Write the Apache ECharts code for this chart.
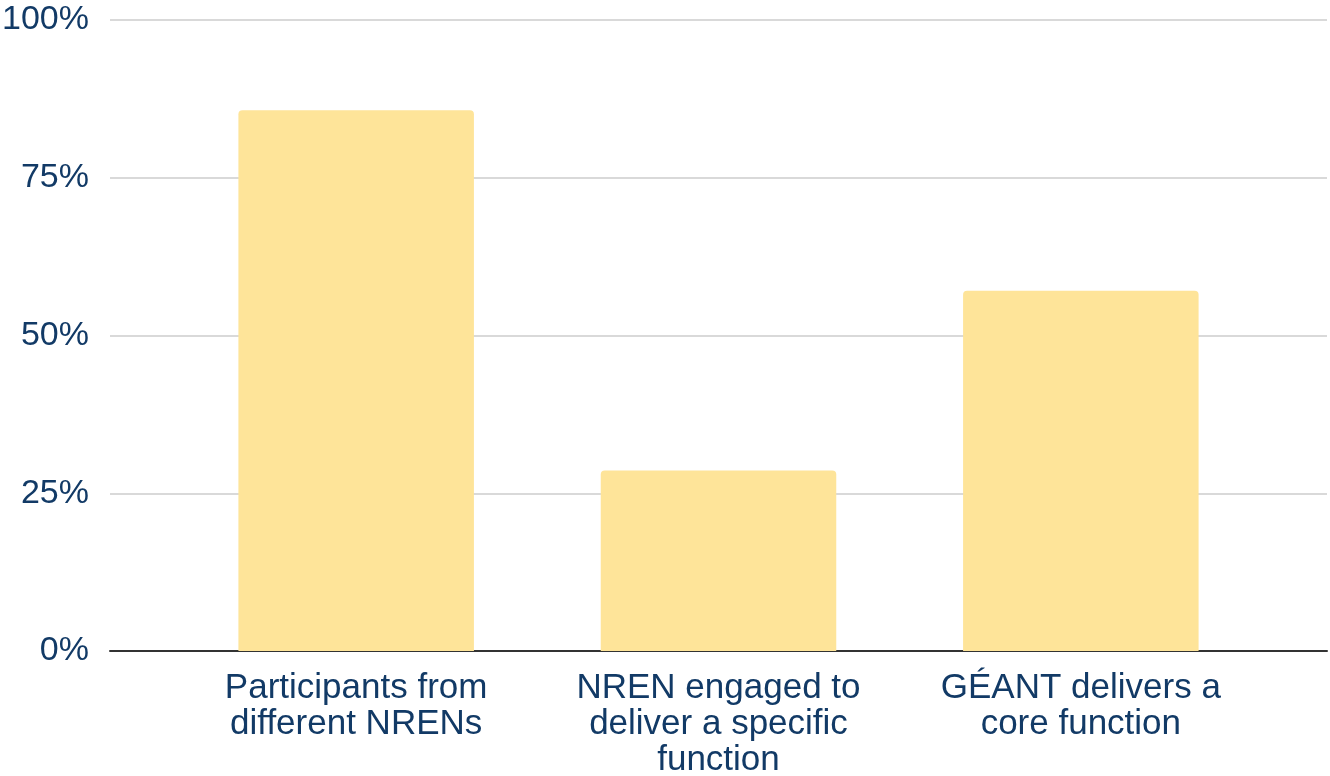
<!DOCTYPE html>
<html>
<head>
<meta charset="utf-8">
<style>
  html, body { margin: 0; padding: 0; background: #ffffff; }
  #chart { width: 1330px; height: 776px; }
</style>
<script src="https://cdn.jsdelivr.net/npm/echarts@6/dist/echarts.min.js"></script>
</head>
<body>
<div id="chart"></div>
<script>
// Share of responses per delivery model (percent)
const categories = [
  'Participants from\ndifferent NRENs',
  'NREN engaged to\ndeliver a specific\nfunction',
  'GÉANT delivers a\ncore function'
];
const shares = [85.7, 28.6, 57.1];
const yTicks = [0, 25, 50, 75, 100];

const textColor = '#123a66';
const fontFamily = '"Liberation Sans", Arial, sans-serif';

const chart = echarts.init(document.getElementById('chart'));
chart.setOption({
  backgroundColor: '#ffffff',
  animation: false,
  grid: [
    // full-width frame: gridlines, y labels and baseline
    { left: 110, right: 3, top: 20, bottom: 125, containLabel: false, outerBoundsMode: 'none' },
    // bar area
    { left: 175, right: 68, top: 20, bottom: 125, containLabel: false, outerBoundsMode: 'none' }
  ],
  xAxis: [
    {
      type: 'category', gridIndex: 0, data: [''],
      axisLine: { show: true, lineStyle: { color: '#333333', width: 2 } },
      axisTick: { show: false }, axisLabel: { show: false }, splitLine: { show: false }
    },
    {
      type: 'category', gridIndex: 1, data: categories,
      axisLine: { show: false }, axisTick: { show: false },
      axisLabel: {
        color: textColor, fontFamily: fontFamily, fontSize: 35,
        lineHeight: 36, margin: 19, interval: 0
      }
    }
  ],
  yAxis: [
    {
      type: 'value', gridIndex: 0, min: yTicks[0], max: yTicks[yTicks.length - 1], interval: 25,
      axisLine: { show: false }, axisTick: { show: false },
      axisLabel: {
        color: textColor, fontFamily: fontFamily, fontSize: 34, margin: 21,
        formatter: v => v + '%'
      },
      splitLine: { lineStyle: { color: '#cccccc', width: 1.5 } }
    },
    {
      type: 'value', gridIndex: 1, min: 0, max: 100, interval: 25,
      axisLine: { show: false }, axisTick: { show: false },
      axisLabel: { show: false }, splitLine: { show: false }
    }
  ],
  series: [
    {
      type: 'bar', xAxisIndex: 1, yAxisIndex: 1, data: shares,
      barWidth: '65%',
      itemStyle: { color: '#fee499', borderRadius: [4, 4, 0, 0] },
      z: 1
    }
  ]
});
</script>
</body>
</html>
